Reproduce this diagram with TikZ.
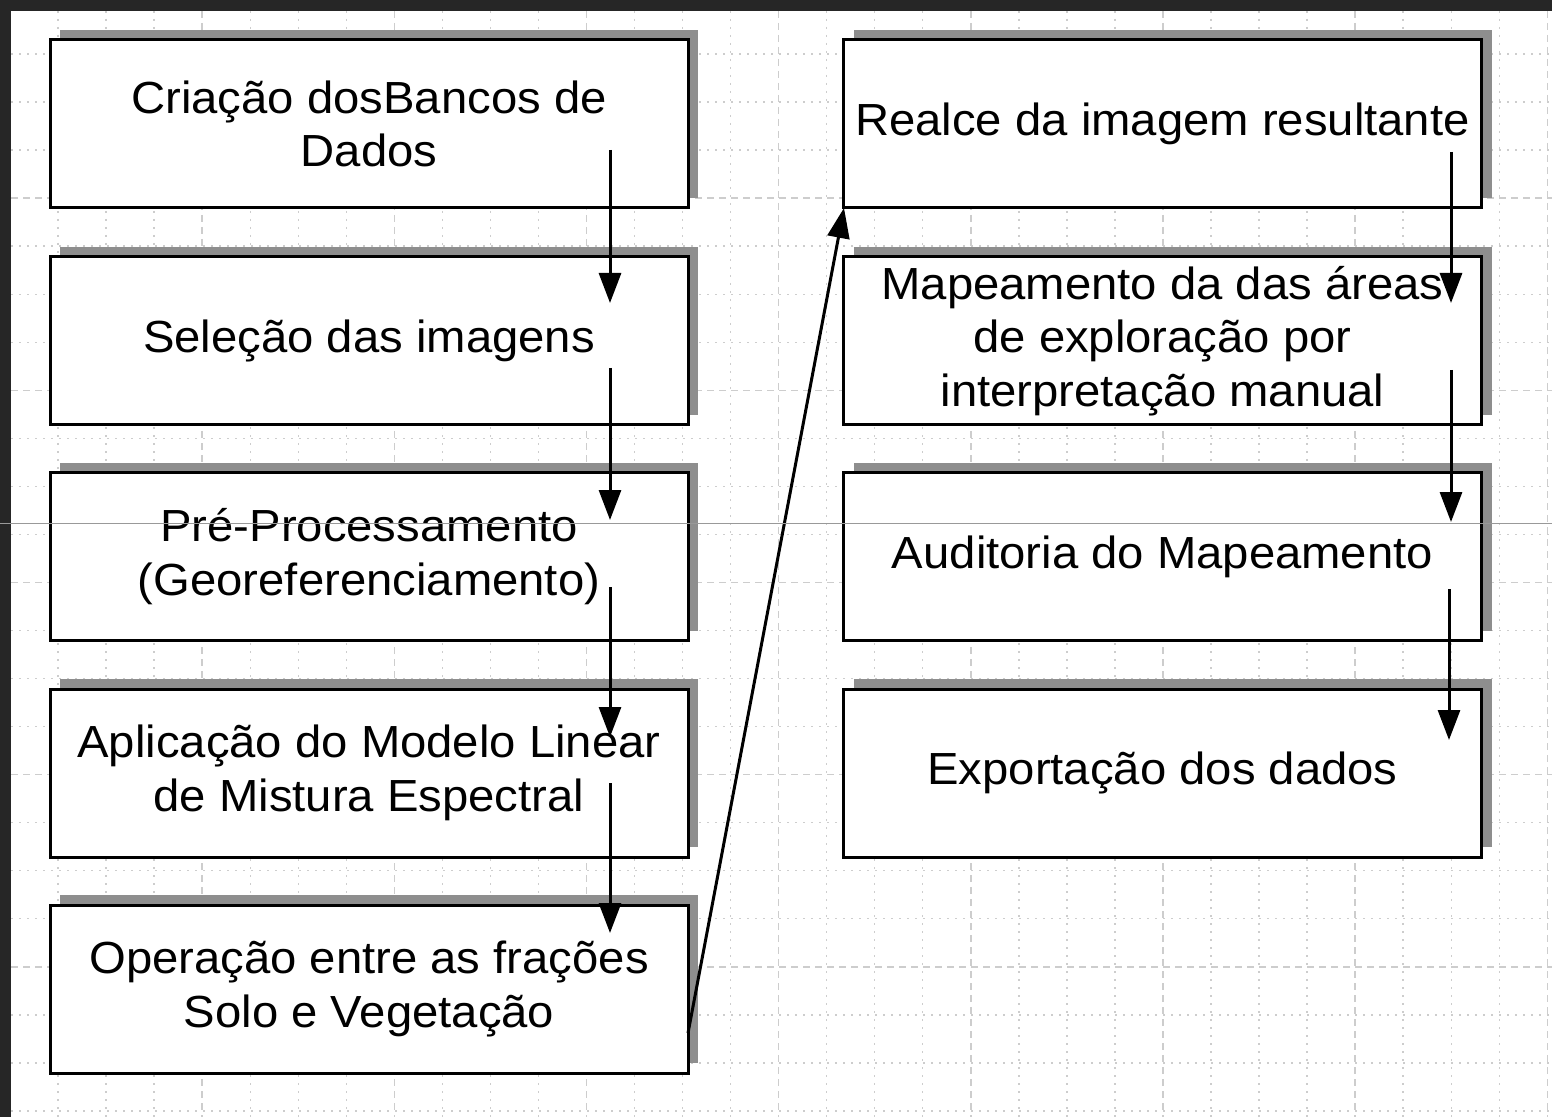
\documentclass[tikz,border=0pt]{standalone}
\usepackage{fontspec}
\setmainfont{Liberation Sans}[FakeStretch=1.05]
\usetikzlibrary{shadows,arrows.meta}

\definecolor{bordergray}{RGB}{38,38,38}
\definecolor{shadowgray}{RGB}{142,142,142}
\definecolor{gridgray}{RGB}{205,205,205}

\tikzset{
    stepbox/.style={draw, line width=1.5pt, fill=white, minimum width=319pt, minimum height=84pt,
        align=center, font=\fontsize{22.5}{26.8}\selectfont,
        drop shadow={shadow xshift=5pt, shadow yshift=5pt, fill=shadowgray, opacity=1}},
    link/.style={line width=1.5pt, -{Triangle[length=15pt, width=11pt]}},
    gridminor/.style={gridgray, line width=0.7pt, dash pattern=on 1pt off 3pt},
    gridmajor/.style={gridgray, line width=0.7pt, dash pattern=on 3.5pt off 2.5pt}
}

\begin{document}
\begin{tikzpicture}[x=0.5pt, y=-0.5pt]
        \useasboundingbox (0,0) rectangle (1552,1117);
        \fill[white] (0,0) rectangle (1552,1117);

        %%grid
        \foreach \i in {1,...,32}{
            \pgfmathtruncatemacro\m{mod(\i,4)}
            \ifnum\m=0 \def\gs{gridmajor}\else\def\gs{gridminor}\fi
            \draw[\gs] ({10+48.04*\i},11) to ({10+48.04*\i},1117);
        }
        \foreach \j in {1,...,23}{
            \pgfmathtruncatemacro\m{mod(\j,4)}
            \ifnum\m=0 \def\gs{gridmajor}\else\def\gs{gridminor}\fi
            \draw[\gs] (11,{6+48.04*\j}) to (1552,{6+48.04*\j});
        }

        %%dark frame
        \fill[bordergray] (0,0) rectangle (1552,11);
        \fill[bordergray] (0,0) rectangle (11,1117);

        %%left column
        \node[stepbox] (criacao) at (369,124) {Criação dosBancos de\\Dados};
        \node[stepbox] (selecao) at (369,341) {Seleção das imagens};
        \node[stepbox] (preproc) at (369,556.5) {Pré-Processamento\\(Georeferenciamento)};
        \node[stepbox] (modelo) at (369,773) {Aplicação do Modelo Linear\\de Mistura Espectral};
        \node[stepbox] (operacao) at (369,989) {Operação entre as frações\\Solo e Vegetação};

        %%right column
        \node[stepbox] (realce) at (1162.5,124) {Realce da imagem resultante};
        \node[stepbox] (mapeamento) at (1162.5,341) {Mapeamento da das áreas\\de exploração por\\interpretação manual};
        \node[stepbox] (auditoria) at (1162.5,556.5) {Auditoria do Mapeamento};
        \node[stepbox] (exportacao) at (1162.5,773) {Exportação dos dados};

        %%connector ends
        \coordinate (c1s) at (610,150);  \coordinate (c1e) at (610,303);
        \coordinate (c2s) at (610,368);  \coordinate (c2e) at (610,520);
        \coordinate (c3s) at (610,587);  \coordinate (c3e) at (610,737);
        \coordinate (c4s) at (610,783);  \coordinate (c4e) at (610,933);
        \coordinate (c5s) at (688,1033); \coordinate (c5e) at (844,208);
        \coordinate (c6s) at (1451,152); \coordinate (c6e) at (1451,303);
        \coordinate (c7s) at (1451,370); \coordinate (c7e) at (1451,522);
        \coordinate (c8s) at (1449,589); \coordinate (c8e) at (1449,740);

        %%connectors
        \foreach \k in {1,...,8}
            \draw[link] (c\k s) to (c\k e);

        %%scan line
        \draw[gray!80, line width=0.4pt] (0,523) to (1552,523);

\end{tikzpicture}
\end{document}
